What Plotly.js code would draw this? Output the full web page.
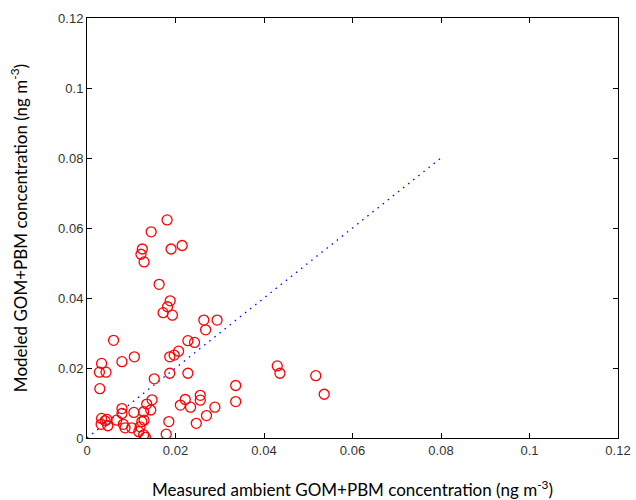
<!DOCTYPE html>
<html>
<head>
<meta charset="utf-8">
<script src="https://cdn.plot.ly/plotly-3.0.1.min.js"></script>
<style>html,body{margin:0;padding:0;background:#fff;}#chart{width:636px;height:500px;}</style>
</head>
<body>
<div id="chart"></div>
<script>
const measured = [0.0181,0.0145,0.0125,0.0122,0.0129,0.0190,0.0215,0.0163,0.0188,0.0182,0.0172,0.0193,0.0060,0.0107,0.0079,0.0033,0.0028,0.0043,0.0029,0.0187,0.0197,0.0207,0.0228,0.0243,0.0187,0.0228,0.0152,0.0264,0.0294,0.0268,0.0336,0.0336,0.0430,0.0436,0.0517,0.0536,0.0256,0.0256,0.0289,0.0270,0.0247,0.0211,0.0222,0.0234,0.0185,0.0179,0.0147,0.0135,0.0144,0.0128,0.0106,0.0079,0.0079,0.0067,0.0082,0.0086,0.0101,0.0124,0.0120,0.0117,0.0128,0.0132,0.0033,0.0041,0.0032,0.0047,0.0045,0.0129];
const modeled = [0.0623,0.0589,0.0540,0.0525,0.0503,0.0540,0.0550,0.0439,0.0392,0.0375,0.0358,0.0351,0.0279,0.0232,0.0218,0.0213,0.0188,0.0188,0.0141,0.0232,0.0237,0.0248,0.0278,0.0273,0.0185,0.0185,0.0169,0.0337,0.0337,0.0309,0.0150,0.0104,0.0206,0.0185,0.0178,0.0125,0.0122,0.0108,0.0088,0.0064,0.0042,0.0094,0.0110,0.0088,0.0047,0.0011,0.0109,0.0097,0.0080,0.0075,0.0073,0.0084,0.0070,0.0051,0.0039,0.0029,0.0029,0.0047,0.0032,0.0018,0.0009,0.0002,0.0056,0.0049,0.0039,0.0035,0.0053,0.0051];
const lineX = [0, 0.08];
const lineY = [0, 0.08];
const tickVals = [0, 0.02, 0.04, 0.06, 0.08, 0.1, 0.12];
const tickText = ["0", "0.02", "0.04", "0.06", "0.08", "0.1", "0.12"];

const traces = [
  {x: lineX, y: lineY, mode: 'lines', type: 'scatter',
   line: {color: '#0000ff', width: 1.3, dash: '1.5px,5px'}, hoverinfo: 'skip'},
  {x: measured, y: modeled, mode: 'markers', type: 'scatter',
   marker: {symbol: 'circle-open', size: 10, color: '#ff0000', line: {width: 1.3, color: '#ff0000'}}}
];
const axisCommon = {
  range: [0, 0.12], tickvals: tickVals, ticktext: tickText,
  ticks: 'inside', ticklen: 5, tickcolor: '#000', tickwidth: 1,
  showline: true, linecolor: '#000', linewidth: 1, mirror: 'ticks',
  showgrid: false, zeroline: false, automargin: false,
  tickfont: {family: 'Liberation Sans, Arial, sans-serif', size: 13, color: '#333'}
};
const layout = {
  width: 636, height: 500,
  margin: {l: 87, r: 18, t: 18, b: 62},
  paper_bgcolor: '#fff', plot_bgcolor: '#fff',
  showlegend: false,
  xaxis: Object.assign({}, axisCommon, {
    title: {text: 'Measured ambient GOM+PBM concentration (ng m<sup>-3</sup>)', standoff: 30,
      font: {family: 'Lato, Open Sans, sans-serif', size: 17, color: '#000'}}
  }),
  yaxis: Object.assign({}, axisCommon, {
    title: {text: 'Modeled GOM+PBM concentration (ng m<sup>-3</sup>)', standoff: 26,
      font: {family: 'Lato, Open Sans, sans-serif', size: 17, color: '#000'}}
  })
};
Plotly.newPlot('chart', traces, layout, {staticPlot: true});
</script>
</body>
</html>
